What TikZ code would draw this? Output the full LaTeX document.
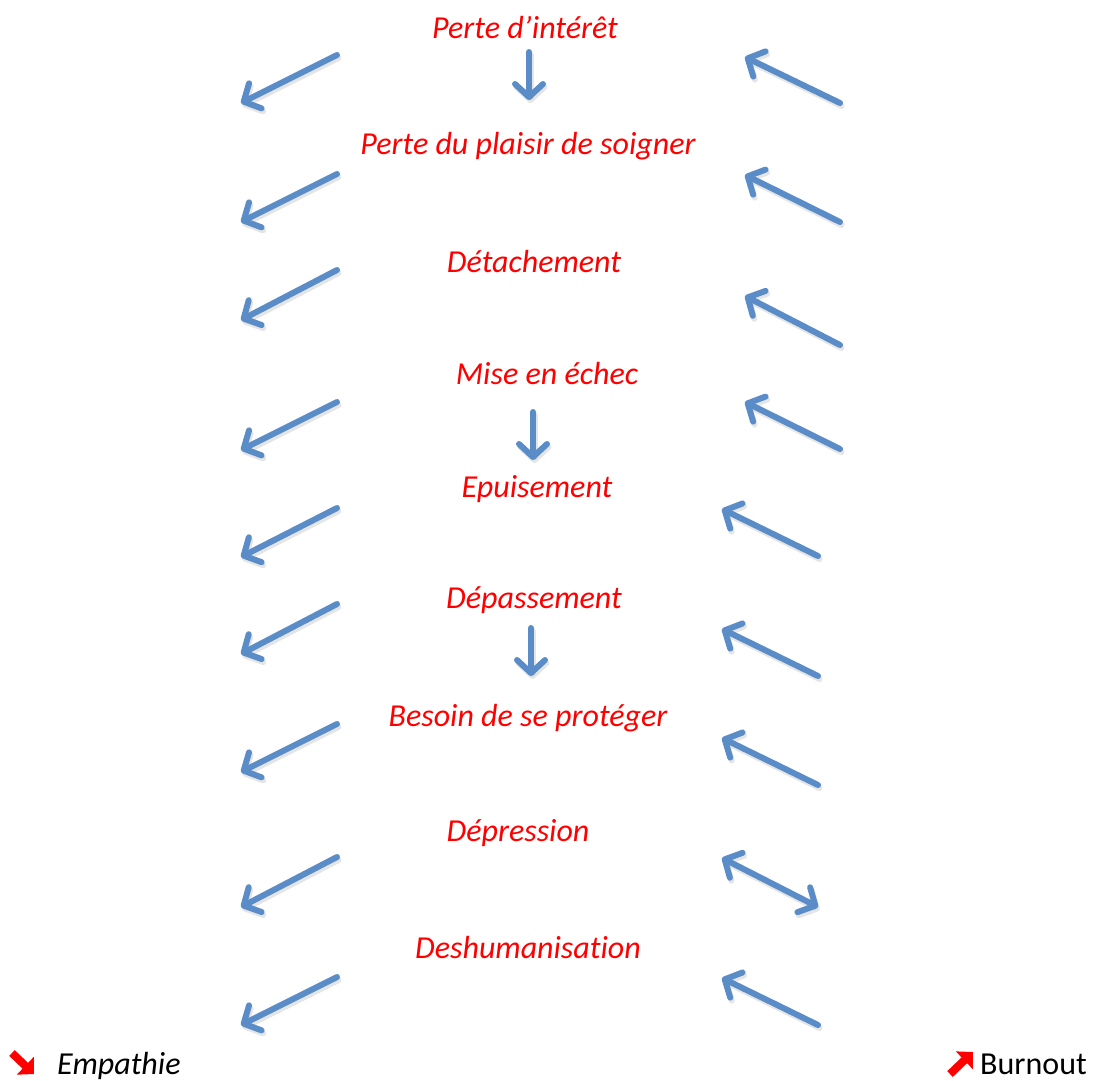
\documentclass[tikz,border=0pt]{standalone}
\usepackage{fontspec}
\setmainfont[Ligatures={TeX,NoCommon}]{Carlito}
\usetikzlibrary{arrows.meta}
\definecolor{arrowblue}{RGB}{90,140,200}
\definecolor{shadowgray}{RGB}{150,150,150}
\tikzset{
  lbl/.style={anchor=base, text=red, font=\fontsize{32}{38}\selectfont\itshape, inner sep=0pt},
  blk/.style={anchor=base west, text=black, font=\fontsize{32}{38}\selectfont, inner sep=0pt},
  barb/.style={line width=6pt, draw=arrowblue, line cap=round,
    -{Straight Barb[length=13pt,width=28pt,line width=6pt,line join=round,line cap=round]}},
  dbarb/.style={line width=6pt, draw=arrowblue, line cap=round,
    {Straight Barb[length=13pt,width=28pt,line width=6pt,line join=round,line cap=round]}-{Straight Barb[length=13pt,width=28pt,line width=6pt,line join=round,line cap=round]}},
  shad/.style={draw=shadowgray, opacity=0.25, transform canvas={shift={(1.5pt,-3pt)}}},
  redarr/.style={line width=8pt, draw=red, -{Triangle[length=12pt,width=24pt]}},
}
\begin{document}
\begin{tikzpicture}[x=1pt,y=-1pt]
\useasboundingbox (0,0) rectangle (1102,1080);
% labels
\node[lbl] (l1) at (525,38) {Perte d’intérêt};
\node[lbl] (l2) at (528,154) {Perte du plaisir de soigner};
\node[lbl] (l3) at (534,272) {Détachement};
\node[lbl] (l4) at (547,384) {Mise en échec};
\node[lbl] (l5) at (537,497) {Epuisement};
\node[lbl] (l6) at (534,608) {Dépassement};
\node[lbl] (l7) at (528,726) {Besoin de se protéger};
\node[lbl] (l8) at (518,841) {Dépression};
\node[lbl] (l9) at (528,958) {Deshumanisation};
\node[blk, font=\fontsize{32}{38}\selectfont\itshape] (emp) at (57,1074) {Empathie};
\node[blk] (burn) at (980,1074) {Burnout};
% corner icons
\coordinate (ea) at (12,1053);
\coordinate (eb) at (34,1074);
\coordinate (ba) at (950,1074);
\coordinate (bb) at (973,1052);
\draw[redarr] (ea) -- (eb);
\draw[redarr] (ba) -- (bb);
% down arrows
\coordinate (d1a) at (529,52);  \coordinate (d1b) at (529,100);
\coordinate (d2a) at (533,412); \coordinate (d2b) at (533,460);
\coordinate (d3a) at (531,628); \coordinate (d3b) at (531,676);
% left arrows
\foreach \i/\ys/\ye in {1/55/103,2/174/222,3/270/320,4/402/450,5/508/557,6/604/654,7/724/772,8/857/907,9/977/1025}{
  \coordinate (la\i) at (337,\ys);
  \coordinate (lb\i) at (241,\ye);
}
% right arrows
\foreach \i/\xs/\ys/\xe/\ye in {1/840/103/745/57,2/840/222/745/175,3/840/345/745/296,4/840/449/745/402,5/818/556/722/509,6/818/676/722/629,7/818/785/722/738,9/818/1025/722/978}{
  \coordinate (ra\i) at (\xs,\ys);
  \coordinate (rb\i) at (\xe,\ye);
}
\coordinate (ra8) at (722,858);
\coordinate (rb8) at (818,907);
% shadows
\foreach \i in {1,...,9}{
  \draw[barb,shad] (la\i) -- (lb\i);
}
\foreach \i in {1,...,7,9}{
  \draw[barb,shad] (ra\i) -- (rb\i);
}
\draw[dbarb,shad] (ra8) -- (rb8);
\draw[barb,shad] (d1a) -- (d1b);
\draw[barb,shad] (d2a) -- (d2b);
\draw[barb,shad] (d3a) -- (d3b);
% arrows
\foreach \i in {1,...,9}{
  \draw[barb] (la\i) -- (lb\i);
}
\foreach \i in {1,...,7,9}{
  \draw[barb] (ra\i) -- (rb\i);
}
\draw[dbarb] (ra8) -- (rb8);
\draw[barb] (d1a) -- (d1b);
\draw[barb] (d2a) -- (d2b);
\draw[barb] (d3a) -- (d3b);
\end{tikzpicture}
\end{document}
